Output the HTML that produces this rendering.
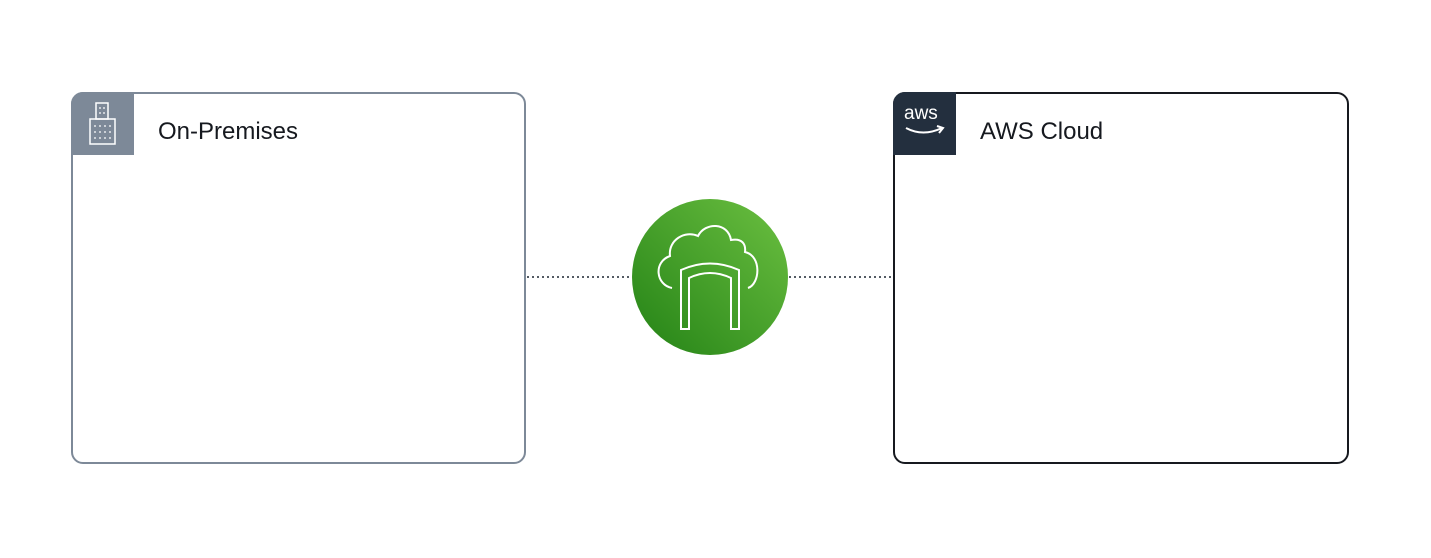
<!DOCTYPE html>
<html><head><meta charset="utf-8"><style>
body{margin:0;width:1431px;height:558px;background:#fff;overflow:hidden;position:relative;font-family:"Liberation Sans","DejaVu Sans",sans-serif}
.box{position:absolute;box-sizing:border-box;border-radius:12px;overflow:hidden}
.lbl{position:absolute;font-size:24px;color:#16191f}
</style></head><body>
<div class="box" style="left:71px;top:92px;width:455px;height:372px;border:2px solid #7d8998"></div>
<div style="position:absolute;left:71px;top:92px;width:63px;height:63px;background:#7d8998;border-top-left-radius:12px"></div>
<svg style="position:absolute;left:71px;top:92px" width="63" height="63" viewBox="0 0 63 63" fill="none" stroke="#fff" stroke-width="1.5">
<rect x="25" y="11" width="12" height="16"/><rect x="19" y="27" width="25" height="25"/>
<path d="M29 15v2M33 15v2M29 20v2M33 20v2M24 33v2M29 33v2M34 33v2M39 33v2M24 39v2M29 39v2M34 39v2M39 39v2M24 45v2M29 45v2M34 45v2M39 45v2" stroke-width="1.2"/>
</svg>
<div class="lbl" style="left:158px;top:118px">On-Premises</div>

<div class="box" style="left:893px;top:92px;width:456px;height:372px;border:2px solid #16191f"></div>
<div style="position:absolute;left:893px;top:92px;width:63px;height:63px;background:#232f3e;border-top-left-radius:12px"></div>
<div style="position:absolute;left:904px;top:104px;color:#fff;font-size:19px;line-height:20px">aws</div>
<svg style="position:absolute;left:893px;top:92px" width="63" height="63"><path d="M13 36 Q30 45 49 36 M44 34 L50 36 L46 41" fill="none" stroke="#fff" stroke-width="2"/></svg>
<div class="lbl" style="left:980px;top:118px">AWS Cloud</div>

<svg style="position:absolute;left:0;top:0" width="1431" height="558">
<line x1="527" y1="277" x2="632" y2="277" stroke="#545b64" stroke-width="2" stroke-dasharray="2 3"/>
<line x1="789" y1="277" x2="892" y2="277" stroke="#545b64" stroke-width="2" stroke-dasharray="2 3"/>
<defs><linearGradient id="g" x1="0" y1="1" x2="1" y2="0"><stop offset="0" stop-color="#1b660f"/><stop offset="0.15" stop-color="#2e8b1c"/><stop offset="1" stop-color="#6cc041"/></linearGradient></defs>
<circle cx="710" cy="277" r="78" fill="url(#g)"/>
<g fill="none" stroke="#fff" stroke-width="2">
<path d="M672 288 C656 285 653 262 670 256 C668 240 685 230 698 236 C705 222 728 222 731 240 C742 238 746 244 745 252 C762 256 760 284 748 288"/>
<path d="M681 329 V270 Q710 257 739 270 V329 H731 V278 Q710 268 689 278 V329 Z"/>
</g>
</svg>
</body></html>
